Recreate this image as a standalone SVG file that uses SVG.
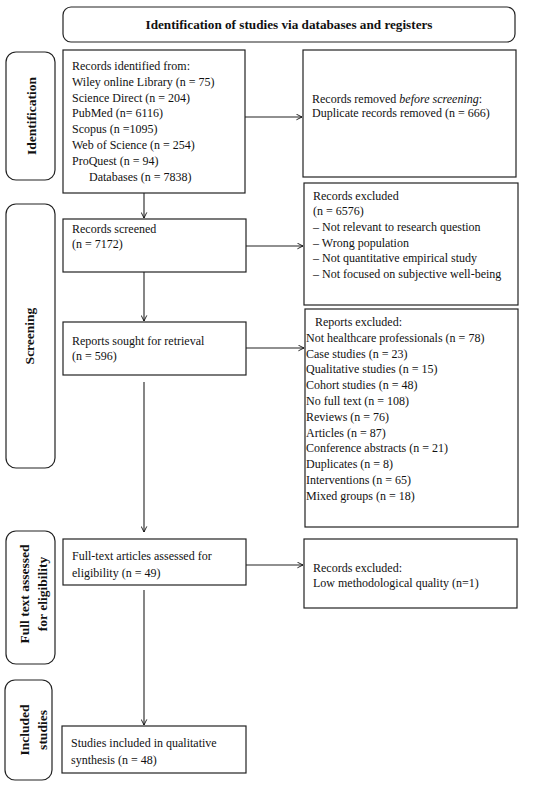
<svg xmlns="http://www.w3.org/2000/svg" width="550" height="786" viewBox="0 0 550 786">
<defs>
<marker id="arr" viewBox="0 0 10 10" refX="9" refY="5" markerWidth="7" markerHeight="7" markerUnits="userSpaceOnUse" orient="auto">
<path d="M1,1 L9,5 L1,9" fill="none" stroke="#000" stroke-width="1.2"/>
</marker>
<style>
.b{fill:#fff;stroke:#222;stroke-width:1.2}
.t{font-family:"Liberation Serif","Times New Roman",serif;font-size:12px;fill:#111}
.h{font-family:"Liberation Serif","Times New Roman",serif;font-size:13.2px;font-weight:bold;fill:#111}
.s{font-family:"Liberation Serif","Times New Roman",serif;font-size:13.5px;font-weight:bold;fill:#111}
.c{fill:none;stroke:#222;stroke-width:1.1}
</style>
</defs>
<rect width="550" height="786" fill="#fff"/>

<g id="title">
<rect class="b" x="63" y="7" width="452" height="35" rx="8"/>
<text class="h" x="289" y="29" text-anchor="middle">Identification of studies via databases and registers</text>
</g>

<g id="lbl-identification">
<rect class="b" x="6" y="52" width="49" height="128" rx="10"/>
<text class="s" transform="translate(36,116) rotate(-90)" text-anchor="middle">Identification</text>
</g>
<g id="lbl-screening">
<rect class="b" x="6" y="204" width="49" height="264" rx="10"/>
<text class="s" transform="translate(34,336) rotate(-90)" text-anchor="middle">Screening</text>
</g>
<g id="lbl-fulltext">
<rect class="b" x="6" y="531" width="49" height="133" rx="10"/>
<text class="s" transform="translate(29,594) rotate(-90)" text-anchor="middle">Full text assessed</text>
<text class="s" transform="translate(47,594) rotate(-90)" text-anchor="middle">for eligibility</text>
</g>
<g id="lbl-included">
<rect class="b" x="5" y="680" width="47" height="100" rx="10"/>
<text class="s" transform="translate(29,730) rotate(-90)" text-anchor="middle">Included</text>
<text class="s" transform="translate(47,730) rotate(-90)" text-anchor="middle">studies</text>
</g>

<g id="n-identified">
<rect class="b" x="63" y="50" width="182" height="143"/>
<text class="t" x="72" y="70">Records identified from:</text>
<text class="t" x="72" y="86">Wiley online Library (n = 75)</text>
<text class="t" x="72" y="102">Science Direct (n = 204)</text>
<text class="t" x="72" y="117">PubMed (n= 6116)</text>
<text class="t" x="72" y="133">Scopus (n =1095)</text>
<text class="t" x="72" y="149">Web of Science (n = 254)</text>
<text class="t" x="72" y="165">ProQuest (n = 94)</text>
<text class="t" x="89" y="181">Databases (n = 7838)</text>
</g>

<g id="n-removed">
<rect class="b" x="303" y="50" width="213" height="127"/>
<text class="t" x="312" y="103">Records removed <tspan font-style="italic">before screening</tspan>:</text>
<text class="t" x="312" y="117">Duplicate records removed (n = 666)</text>
</g>

<g id="n-screened">
<rect class="b" x="63" y="219" width="183" height="53"/>
<text class="t" x="72" y="233">Records screened</text>
<text class="t" x="72" y="248">(n = 7172)</text>
</g>

<g id="n-excluded1">
<rect class="b" x="304" y="183" width="214" height="122"/>
<text class="t" x="313" y="200">Records excluded</text>
<text class="t" x="313" y="215">(n = 6576)</text>
<text class="t" x="313" y="231">– Not relevant to research question</text>
<text class="t" x="313" y="247">– Wrong population</text>
<text class="t" x="313" y="262">– Not quantitative empirical study</text>
<text class="t" x="313" y="278">– Not focused on subjective well-being</text>
</g>

<g id="n-sought">
<rect class="b" x="63" y="322" width="183" height="53"/>
<text class="t" x="72" y="345">Reports sought for retrieval</text>
<text class="t" x="72" y="360">(n = 596)</text>
</g>

<g id="n-excluded2">
<rect class="b" x="305" y="309" width="213" height="218"/>
<text class="t" x="315" y="326">Reports excluded:</text>
<text class="t" x="306" y="342">Not healthcare professionals (n = 78)</text>
<text class="t" x="306" y="358">Case studies (n = 23)</text>
<text class="t" x="306" y="373">Qualitative studies (n = 15)</text>
<text class="t" x="306" y="389">Cohort studies (n = 48)</text>
<text class="t" x="306" y="405">No full text (n = 108)</text>
<text class="t" x="306" y="421">Reviews (n = 76)</text>
<text class="t" x="306" y="437">Articles (n = 87)</text>
<text class="t" x="306" y="452">Conference abstracts (n = 21)</text>
<text class="t" x="306" y="468">Duplicates (n = 8)</text>
<text class="t" x="306" y="484">Interventions (n = 65)</text>
<text class="t" x="306" y="500">Mixed groups (n = 18)</text>
</g>

<g id="n-fulltext">
<rect class="b" x="63" y="539" width="183" height="46"/>
<text class="t" x="72" y="560">Full-text articles assessed for</text>
<text class="t" x="72" y="577">eligibility (n = 49)</text>
</g>

<g id="n-excluded3">
<rect class="b" x="304" y="539" width="213" height="69"/>
<text class="t" x="313" y="572">Records excluded:</text>
<text class="t" x="313" y="587">Low methodological quality (n=1)</text>
</g>

<g id="n-included">
<rect class="b" x="62" y="726" width="184" height="47"/>
<text class="t" x="71" y="747">Studies included in qualitative</text>
<text class="t" x="71" y="764">synthesis (n = 48)</text>
</g>

<g id="connectors">
<line class="c" x1="245" y1="117" x2="302" y2="117" marker-end="url(#arr)"/>
<line class="c" x1="144" y1="193" x2="144" y2="218" marker-end="url(#arr)"/>
<line class="c" x1="246" y1="246" x2="303" y2="246" marker-end="url(#arr)"/>
<line class="c" x1="144" y1="272" x2="144" y2="321" marker-end="url(#arr)"/>
<line class="c" x1="246" y1="348" x2="304" y2="348" marker-end="url(#arr)"/>
<line class="c" x1="144" y1="382" x2="144" y2="532" marker-end="url(#arr)"/>
<line class="c" x1="246" y1="565" x2="303" y2="565" marker-end="url(#arr)"/>
<line class="c" x1="144" y1="590" x2="144" y2="725" marker-end="url(#arr)"/>
</g>
</svg>
